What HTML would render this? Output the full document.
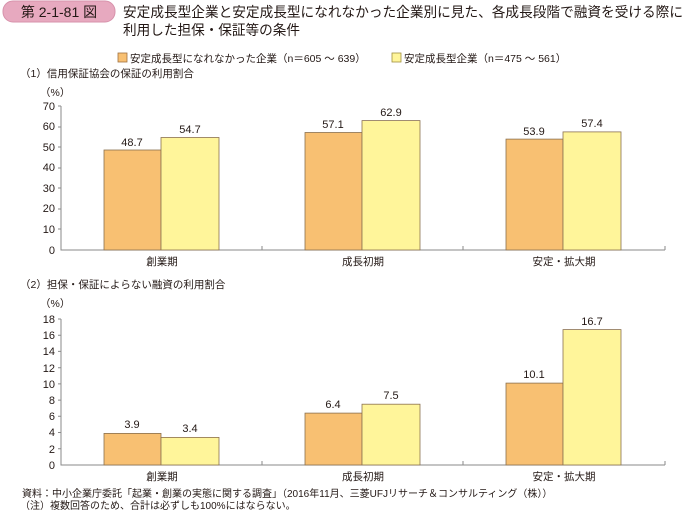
<!DOCTYPE html>
<html><head><meta charset="utf-8"><style>
body{margin:0;background:#fff;}
svg text{font-family:"Liberation Sans","Noto Sans CJK JP",sans-serif;fill:#231815;}
</style></head><body>
<svg width="685" height="511" viewBox="0 0 685 511" xmlns="http://www.w3.org/2000/svg">
<rect x="3" y="1" width="112" height="21" rx="10" fill="#e7a9bf" stroke="#d792ab"/>
<text x="59" y="17" font-size="14" text-anchor="middle">第 2-1-81 図</text>
<text x="123" y="17" font-size="14" textLength="560" lengthAdjust="spacingAndGlyphs">安定成長型企業と安定成長型になれなかった企業別に見た、各成長段階で融資を受ける際に</text>
<text x="123" y="35" font-size="14" textLength="177" lengthAdjust="spacingAndGlyphs">利用した担保・保証等の条件</text>
<rect x="118" y="53" width="9" height="9" fill="#f8c072" stroke="#a07040" stroke-width="0.8"/>
<text x="130" y="62" font-size="10.5">安定成長型になれなかった企業（n＝605 ～ 639）</text>
<rect x="392" y="53" width="9" height="9" fill="#fff59a" stroke="#a09040" stroke-width="0.8"/>
<text x="404" y="62" font-size="10.5">安定成長型企業（n＝475 ～ 561）</text>
<text x="20" y="77" font-size="10.5">（1）信用保証協会の保証の利用割合</text>
<text x="40" y="96" font-size="10.5">（%）</text>
<g font-size="11" text-anchor="end">
<text x="55" y="110">70</text><text x="55" y="130">60</text><text x="55" y="151">50</text><text x="55" y="171">40</text><text x="55" y="192">30</text><text x="55" y="212">20</text><text x="55" y="233">10</text><text x="55" y="254">0</text>
</g>
<g stroke="#8a8a8a" stroke-width="1" fill="none">
<path d="M61 106V250H665M58 106H61M58 127H61M58 147H61M58 168H61M58 188H61M58 209H61M58 229H61M262 250V246M463 250V246M665 250V246"/>
</g>
<g stroke="#8a7050" stroke-width="0.8">
<rect x="104" y="150" width="57" height="100" fill="#f8c072"/>
<rect x="161" y="137.5" width="58" height="112.5" fill="#fff59a"/>
<rect x="305" y="132.5" width="57" height="117.5" fill="#f8c072"/>
<rect x="362" y="120.6" width="58" height="129.4" fill="#fff59a"/>
<rect x="506" y="139.1" width="57" height="110.9" fill="#f8c072"/>
<rect x="563" y="131.9" width="58" height="118.1" fill="#fff59a"/>
</g>
<g font-size="11" text-anchor="middle">
<text x="132" y="146">48.7</text><text x="190" y="133">54.7</text>
<text x="333" y="128">57.1</text><text x="391" y="116">62.9</text>
<text x="534" y="135">53.9</text><text x="592" y="127">57.4</text>
<text x="162" y="265" font-size="10.5">創業期</text><text x="363" y="265" font-size="10.5">成長初期</text><text x="564" y="265" font-size="10.5">安定・拡大期</text>
</g>
<text x="20" y="288" font-size="10.5">（2）担保・保証によらない融資の利用割合</text>
<text x="40" y="307" font-size="10.5">（%）</text>
<g font-size="11" text-anchor="end">
<text x="55" y="323">18</text><text x="55" y="339">16</text><text x="55" y="355">14</text><text x="55" y="372">12</text><text x="55" y="388">10</text><text x="55" y="404">8</text><text x="55" y="420">6</text><text x="55" y="436">4</text><text x="55" y="453">2</text><text x="55" y="469">0</text>
</g>
<g stroke="#8a8a8a" stroke-width="1" fill="none">
<path d="M61 319V465H665M58 319H61M58 335.2H61M58 351.4H61M58 367.7H61M58 383.9H61M58 400.1H61M58 416.3H61M58 432.5H61M58 448.8H61M262 465V461M463 465V461M665 465V461"/>
</g>
<g stroke="#8a7050" stroke-width="0.8">
<rect x="104" y="433.4" width="57" height="31.6" fill="#f8c072"/>
<rect x="161" y="437.4" width="58" height="27.6" fill="#fff59a"/>
<rect x="305" y="413.1" width="57" height="51.9" fill="#f8c072"/>
<rect x="362" y="404.2" width="58" height="60.8" fill="#fff59a"/>
<rect x="506" y="383.1" width="57" height="81.9" fill="#f8c072"/>
<rect x="563" y="329.6" width="58" height="135.4" fill="#fff59a"/>
</g>
<g font-size="11" text-anchor="middle">
<text x="132" y="428">3.9</text><text x="190" y="432">3.4</text>
<text x="333" y="408">6.4</text><text x="391" y="399">7.5</text>
<text x="534" y="378">10.1</text><text x="592" y="325">16.7</text>
<text x="162" y="480" font-size="10.5">創業期</text><text x="363" y="480" font-size="10.5">成長初期</text><text x="564" y="480" font-size="10.5">安定・拡大期</text>
</g>
<text x="22" y="497" font-size="10">資料：中小企業庁委託「起業・創業の実態に関する調査」（2016年11月、三菱UFJリサーチ＆コンサルティング（株））</text>
<text x="20" y="509" font-size="10">（注）複数回答のため、合計は必ずしも100%にはならない。</text>
</svg>
</body></html>
